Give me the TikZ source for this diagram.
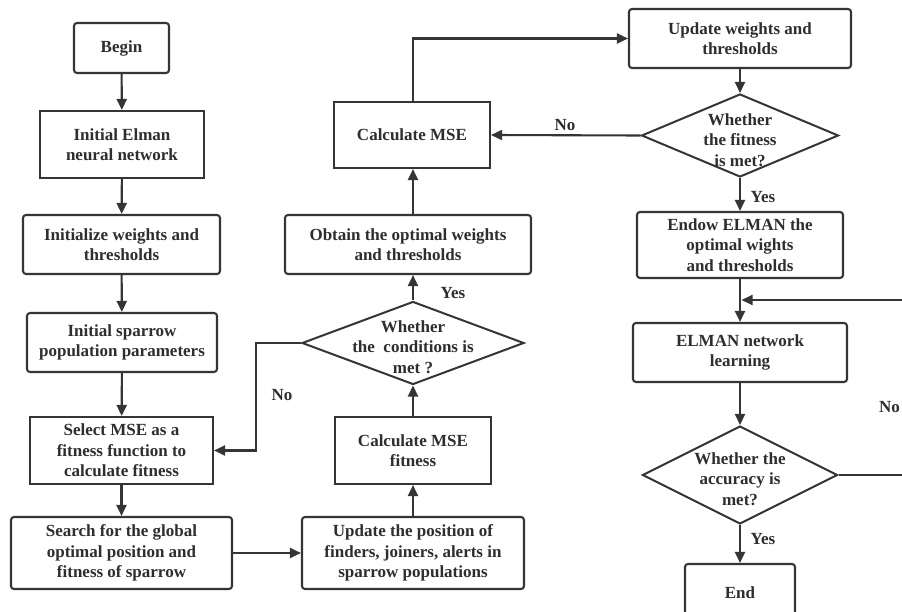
\documentclass[tikz,border=0pt]{standalone}
\usepackage{fontspec}
\setmainfont{Liberation Serif}
\usetikzlibrary{shapes.geometric,arrows.meta}
\definecolor{ln}{HTML}{353535}
\definecolor{tx}{HTML}{2E2E2E}
\begin{document}
\begin{tikzpicture}[x=1pt,y=-1pt,
  every node/.style={font=\fontsize{17}{20.5}\selectfont\bfseries, text=tx, align=center, inner sep=0pt},
  rbox/.style={draw=ln, line width=2.1pt, rounded corners=3pt, rectangle},
  sbox/.style={draw=ln, line width=2.1pt, rectangle},
  dia/.style={draw=ln, line width=2pt, diamond, inner sep=0pt},
  arr/.style={draw=ln, line width=2.1pt, -{Triangle[length=11pt,width=10pt]}},
  lab/.style={font=\fontsize{17}{20.5}\selectfont\bfseries}]
\path[use as bounding box, clip] (0,0) rectangle (902,612);
\fill[white] (0,0) rectangle (902,612);
% left column
\node[rbox, minimum width=95pt, minimum height=50pt] (begin) at (121.5,48) {Begin};
\node[sbox, minimum width=164pt, minimum height=67pt] (elman) at (122,144.5) {Initial Elman\\neural network};
\node[rbox, minimum width=197pt, minimum height=59pt] (initw) at (121.5,244.5) {Initialize weights and\\thresholds};
\node[rbox, minimum width=190pt, minimum height=59pt] (initsp) at (122,342.5) {Initial sparrow\\population parameters};
\node[sbox, minimum width=183pt, minimum height=67pt] (select) at (121.5,450.5) {Select MSE as a\\fitness function to\\calculate fitness};
\node[rbox, minimum width=221pt, minimum height=72pt] (search) at (121.5,553) {Search for the global\\optimal position and\\fitness of sparrow};
% middle column
\node[rbox, minimum width=222pt, minimum height=72pt] (updpos) at (413,553) {Update the position of\\finders, joiners, alerts in\\sparrow populations};
\node[sbox, minimum width=156pt, minimum height=67pt] (calcfit) at (413,450.5) {Calculate MSE\\fitness};
\node[dia, minimum width=222pt, minimum height=83pt] (cond) at (413,343) {};
\node at (413,347) {Whether\\the\ \ conditions is\\met ?};
\node[rbox, minimum width=246pt, minimum height=59pt] (obtain) at (408,244.5) {Obtain the optimal weights\\and thresholds};
\node[sbox, minimum width=156pt, minimum height=66pt] (calcmse) at (412,135) {Calculate MSE};
% right column
\node[rbox, minimum width=222pt, minimum height=59pt] (updw) at (740,38.5) {Update weights and\\thresholds};
\node[dia, minimum width=197pt, minimum height=83pt] (fit) at (740,135.5) {};
\node at (740,140) {Whether\\the fitness\\is met?};
\node[rbox, minimum width=206pt, minimum height=66pt] (endow) at (740,245) {Endow ELMAN the\\optimal wights\\and thresholds};
\node[rbox, minimum width=214pt, minimum height=59pt] (elmanl) at (740,352.5) {ELMAN network\\learning};
\node[dia, minimum width=195pt, minimum height=98pt] (acc) at (740,475) {};
\node at (740,479) {Whether the\\accuracy is\\met?};
\node[rbox, minimum width=110pt, minimum height=58pt] (end) at (740,593) {End};
\coordinate (jn) at (740,300);
\coordinate (nofar) at (920,300);
% connectors
\draw[arr] (begin) -- (elman);
\draw[arr] (elman) -- (initw);
\draw[arr] (initw) -- (initsp);
\draw[arr] (initsp) -- (select);
\draw[arr] (select) -- (search);
\draw[arr] (search.east) -- (updpos.west);
\draw[arr] (updpos.north) -- (calcfit.south);
\draw[arr] (calcfit.north) -- (cond.south);
\draw[arr] (cond.north) -- (cond.north |- obtain.south);
\draw[arr] (cond.north |- obtain.north) -- (cond.north |- calcmse.south);
\draw[arr] (cond.west) -- (256,343) |- (select.east);
\draw[arr] (cond.north |- calcmse.north) |- (updw.west);
\draw[arr] (updw) -- (fit);
\draw[arr] (fit.west) -- (calcmse.east);
\draw[arr] (fit) -- (endow);
\draw[arr] (endow) -- (elmanl);
\draw[arr] (acc.east) -- (920,475) -- (nofar) -- ([xshift=1.5pt]jn);
\draw[arr] (elmanl) -- (acc);
\draw[arr] (acc) -- (end);
% labels
\node[lab] at (282,395) {No};
\node[lab] at (453,293) {Yes};
\node[lab] at (565,125) {No};
\node[lab] at (763,197) {Yes};
\node[lab] at (763,539) {Yes};
\node[lab, anchor=east] at (900,407) {No};
\end{tikzpicture}
\end{document}
